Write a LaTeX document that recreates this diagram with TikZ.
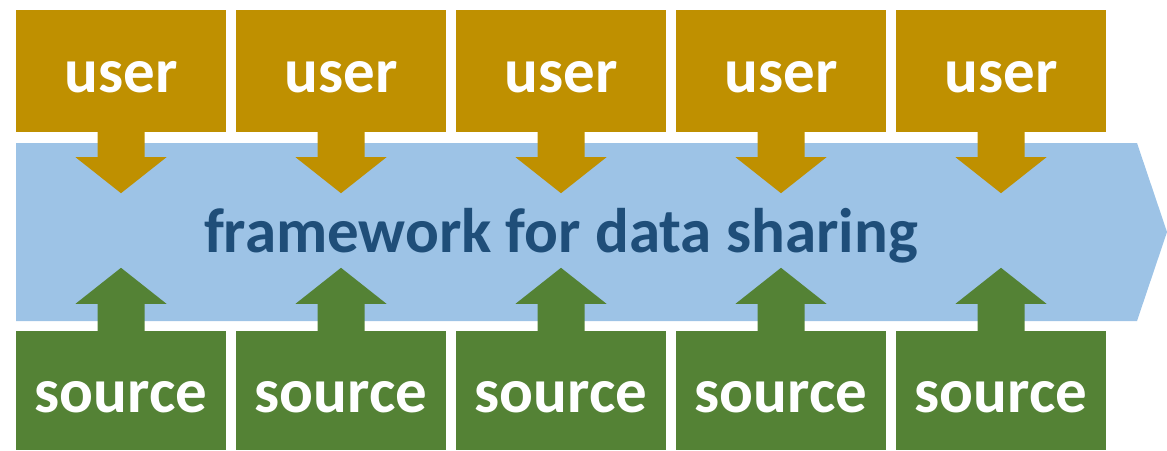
\documentclass[tikz,border=0pt]{standalone}
\usepackage{fontspec}
\setmainfont{Carlito}
\definecolor{gold}{HTML}{BF9000}
\definecolor{leaf}{HTML}{548235}
\definecolor{band}{HTML}{9DC3E6}
\definecolor{navy}{HTML}{1F4E79}
\tikzset{
  userbox/.style={fill=gold, draw=none, minimum width=210pt, minimum height=122pt, inner sep=0pt},
  sourcebox/.style={fill=leaf, draw=none, minimum width=210pt, minimum height=119pt, inner sep=0pt},
  lbl/.style={text=white, font=\fontsize{63}{63}\selectfont\bfseries, inner sep=0pt, anchor=base},
  fwlbl/.style={text=navy, font=\fontsize{63}{63}\selectfont\bfseries, inner sep=0pt, anchor=base},
}
\begin{document}
\begin{tikzpicture}[x=1pt,y=-1pt]
\useasboundingbox (0,0) rectangle (1167,450);
\fill[band] (16,143) -- (1137,143) -- (1167,232) -- (1137,321) -- (16,321) -- cycle;
\node[fwlbl] (fw) at (561,252) {framework for data sharing};
\foreach \i in {0,...,4}{
  \pgfmathsetmacro{\cx}{121+220*\i}
  \node[userbox] (u\i) at (\cx,71) {};
  \node[lbl] (ut\i) at (\cx,92) {user};
  \fill[gold, shift={(u\i.south)}] (-23.5,-1) -- (-23.5,25) -- (-45.5,25) -- (0,61) -- (45.5,25) -- (23.5,25) -- (23.5,-1) -- cycle;
  \node[sourcebox] (s\i) at (\cx,390.5) {};
  \node[lbl] (st\i) at (\cx,412) {source};
  \fill[leaf, shift={(s\i.north)}] (-23.5,1) -- (-23.5,-27) -- (-45.5,-27) -- (0,-63) -- (45.5,-27) -- (23.5,-27) -- (23.5,1) -- cycle;
}
\end{tikzpicture}
\end{document}
